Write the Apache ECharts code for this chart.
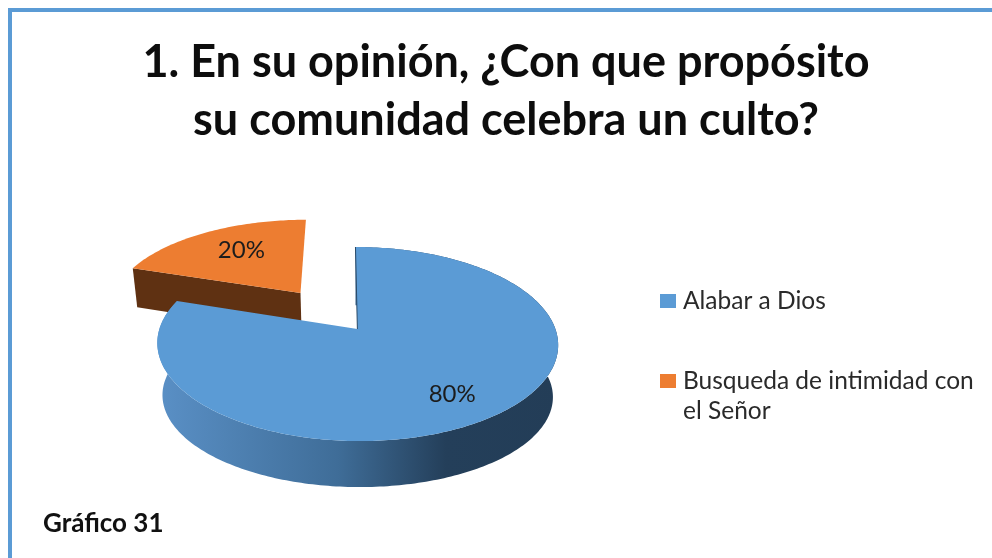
<!DOCTYPE html>
<html>
<head>
<meta charset="utf-8">
<style>
  html, body { margin: 0; padding: 0; background: #fff; }
  #chart { width: 992px; height: 558px; }
</style>
<script src="https://cdn.jsdelivr.net/npm/echarts@6/dist/echarts.min.js"></script>
</head>
<body>
<div id="chart"></div>
<script>
const titleLines = ['1. En su opinión, ¿Con que propósito', 'su comunidad celebra un culto?']
const caption = 'Gráfico 31'
const sliceNames = ['Alabar a Dios', 'Busqueda de intimidad con el Señor']
// the empty first line keeps the legend square level with the first text line
const legendLines = ['Alabar a Dios', '\nBusqueda de intimidad con\nel Señor']
const sliceValues = [80, 20]
const total = sliceValues.reduce((a, b) => a + b, 0)

const FONT = 'Lato, "Noto Sans", sans-serif'

// perspective of the tilted disc, fitted to the picture
const CX = 356
const CY = 329
const RX = 198
const RY = 94.7
const PERSP = 0.155
const SHEAR = 2

function upper(X, Y) {
  const d = 1 + PERSP * Y
  return [CX + (RX * X - SHEAR * Y) / d, CY - RY * Y / d]
}

// same point on the underside of the disc
function underMain(X, Y) {
  const p = upper(X, Y)
  return [CX + (p[0] - CX) * 0.974, CY + (p[1] - CY) * 0.9375 + 53]
}

function underOut(X, Y) {
  const p = upper(X, Y)
  return [CX + (p[0] - CX) * 0.98, CY + (p[1] - CY) * 1.04 + 41.5]
}

function rim(project, a0, a1, ox, oy) {
  const pts = []
  const n = Math.ceil(Math.abs(a1 - a0) * 180 / Math.PI)
  for (let i = 0; i <= n; i++) {
    const a = a0 + (a1 - a0) * i / n
    pts.push(project(ox + Math.sin(a), oy + Math.cos(a)))
  }
  return pts
}

function poly(points, fill) {
  return { type: 'polygon', shape: { points }, style: { fill } }
}

function label(a, r, ox, oy, text, dx, dy) {
  const p = upper(ox + r * Math.sin(a), oy + r * Math.cos(a))
  return {
    type: 'text',
    style: { x: p[0] + dx, y: p[1] + dy, text, fill: '#1c1c1c', font: '24px ' + FONT, align: 'center', verticalAlign: 'middle' }
  }
}

// big slice, clockwise from twelve o'clock
function renderMain(params, api) {
  const end = api.value(0) / total * Math.PI * 2
  const ox = 0.007
  const front = rim(upper, 0, end, ox, 0)
  const back = rim(underMain, 0, end, ox, 0).reverse()
  return {
    type: 'group',
    children: [
      {
        type: 'polygon',
        shape: { points: front.concat(back) },
        style: {
          fill: new echarts.graphic.LinearGradient(0, 0, 1, 0, [
            { offset: 0, color: '#5a90c6' },
            { offset: 0.45, color: '#3f6d98' },
            { offset: 0.72, color: '#243f5a' },
            { offset: 1, color: '#233d57' }
          ])
        }
      },
      poly(front.concat([upper(ox, 0)]), '#5b9bd5'),
      { type: 'polyline', shape: { points: [upper(ox, 0), upper(ox, 1)] }, style: { stroke: '#2a4a68', lineWidth: 1, fill: null } },
      label(end / 2, 0.75, ox, 0, Math.round(api.value(0) / total * 100) + '%', -3, 2)
    ]
  }
}

// small slice, pulled out of the disc along its middle
function renderOut(params, api) {
  const span = api.value(0) / total * Math.PI * 2
  const start = Math.PI * 2 - span
  const end = Math.PI * 2
  const mid = (start + end) / 2
  const ox = 0.5 * Math.sin(mid)
  const oy = 0.5 * Math.cos(mid)
  const corner = [ox + Math.sin(start), oy + Math.cos(start)]
  return {
    type: 'group',
    children: [
      poly([upper(corner[0], corner[1]), upper(ox, oy), underOut(ox, oy), underOut(corner[0], corner[1])], '#5f3112'),
      poly(rim(upper, start, end, ox, oy).concat([upper(ox, oy)]), '#ed7d31'),
      label(mid, 0.65, ox, oy, Math.round(api.value(0) / total * 100) + '%', 4, -2)
    ]
  }
}

const chart = echarts.init(document.getElementById('chart'))

function legendAt(i, y) {
  return {
    data: [{ name: sliceNames[i], icon: 'rect' }],
    orient: 'vertical',
    left: 660,
    top: y,
    padding: 0,
    itemWidth: 16,
    itemHeight: 14,
    itemGap: 0,
    selectedMode: false,
    formatter: () => legendLines[i],
    textStyle: { fontFamily: FONT, fontSize: 24.5, color: '#2a2a2a', lineHeight: 30, padding: [0, 0, 0, 2] }
  }
}

chart.setOption({
  animation: false,
  backgroundColor: '#ffffff',
  title: [
    {
      text: titleLines.join('\n'),
      left: 506,
      top: 33,
      textAlign: 'center',
      padding: 0,
      textStyle: { fontFamily: FONT, fontSize: 45, fontWeight: 'bold', color: '#0d0d0d', lineHeight: 58 }
    },
    {
      text: caption,
      left: 43,
      top: 511,
      padding: 0,
      textStyle: { fontFamily: FONT, fontSize: 26, fontWeight: 'bold', color: '#111111' }
    }
  ],
  legend: [legendAt(0, 286), legendAt(1, 336)],
  graphic: [
    { type: 'rect', shape: { x: 8, y: 8, width: 4, height: 550 }, style: { fill: '#5b9bd5' }, silent: true },
    { type: 'rect', shape: { x: 8, y: 8, width: 984, height: 4 }, style: { fill: '#5b9bd5' }, silent: true }
  ],
  series: [
    {
      type: 'custom',
      name: sliceNames[0],
      coordinateSystem: 'none',
      z: 3,
      itemStyle: { color: '#5b9bd5' },
      renderItem: renderMain,
      data: [[sliceValues[0]]]
    },
    {
      type: 'custom',
      name: sliceNames[1],
      coordinateSystem: 'none',
      z: 2,
      itemStyle: { color: '#ed7d31' },
      renderItem: renderOut,
      data: [[sliceValues[1]]]
    }
  ]
})
</script>
</body>
</html>
